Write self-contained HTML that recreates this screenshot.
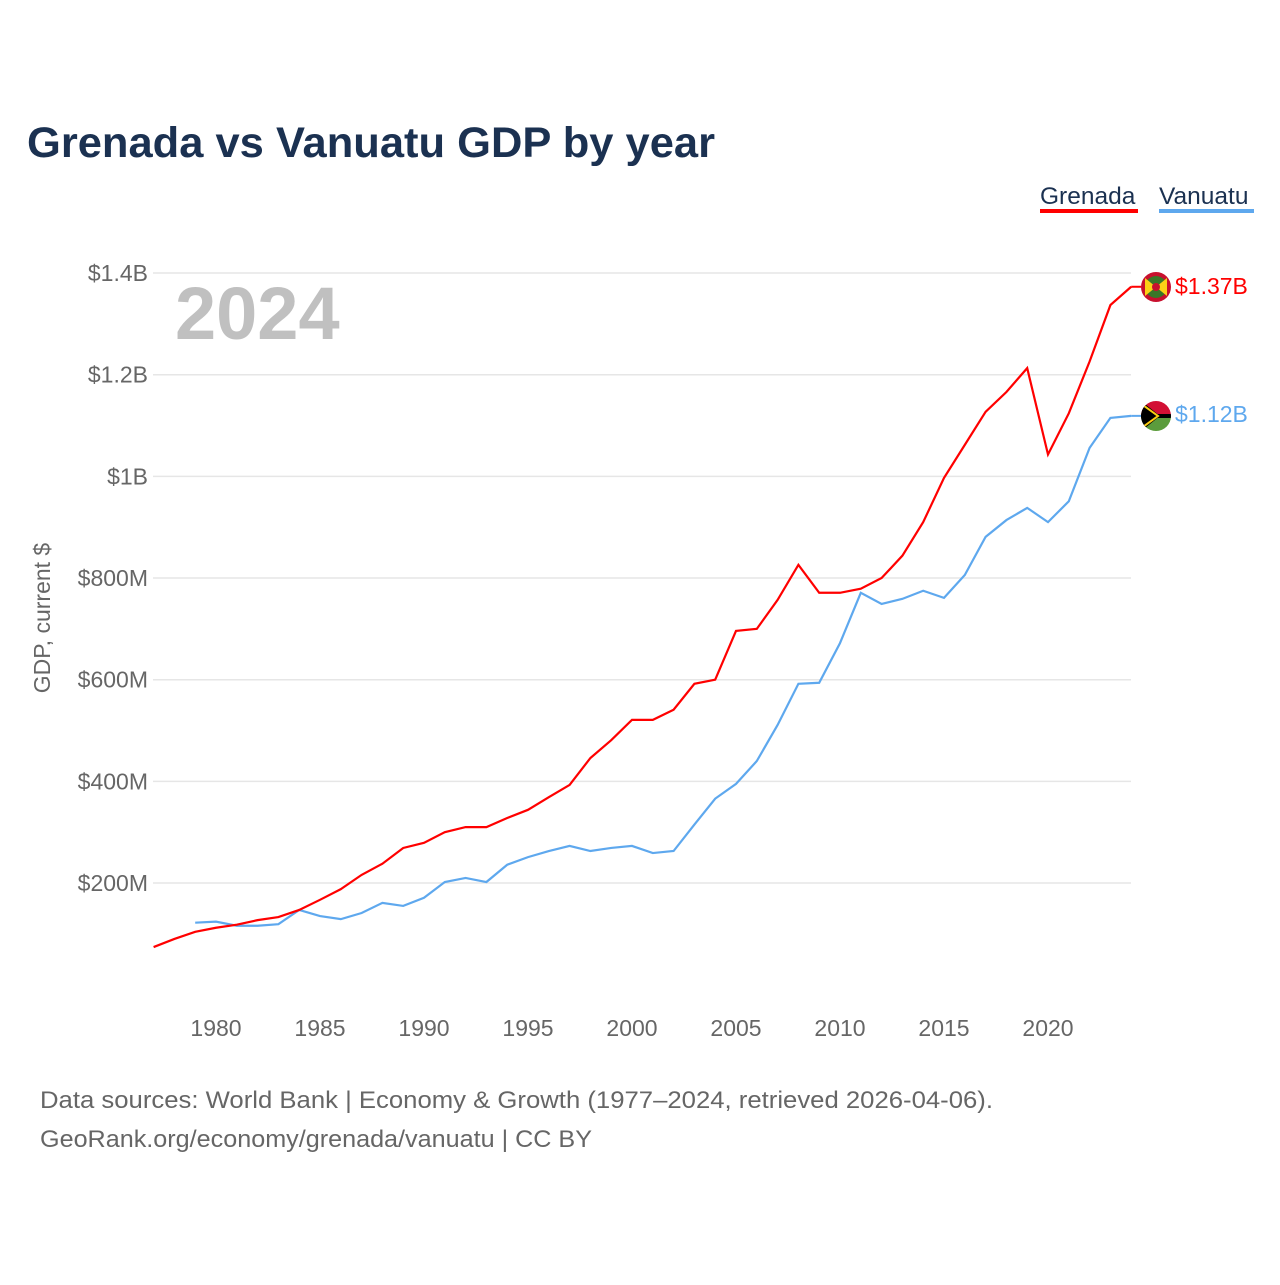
<!DOCTYPE html>
<html><head><meta charset="utf-8"><style>
body{margin:0;background:#fff;width:1280px;height:1280px;overflow:hidden;font-family:"Liberation Sans",sans-serif}
svg text{font-family:"Liberation Sans",sans-serif}
</style></head><body>
<svg id="chart" width="1280" height="1280">
<text x="27" y="157" font-size="43" font-weight="bold" fill="#1b3151" textLength="688" lengthAdjust="spacingAndGlyphs">Grenada vs Vanuatu GDP by year</text>
<g>
<text x="1040" y="204" font-size="24.5" fill="#1b3151">Grenada</text>
<rect x="1040" y="209" width="98" height="4" fill="#ff0000"/>
<text x="1159" y="204" font-size="24.5" fill="#1b3151">Vanuatu</text>
<rect x="1159" y="209" width="95" height="4" fill="#5ea8ee"/>
</g>
<g id="grid"></g>
<text x="175" y="339" font-size="74" font-weight="bold" fill="#c0c0c0">2024</text>
<text transform="translate(50,618) rotate(-90)" text-anchor="middle" font-size="23" fill="#666">GDP, current $</text>
<g id="series"></g>
<g>
<circle cx="1156" cy="287" r="15" fill="#c8102e"/><circle cx="1156" cy="287" r="11" fill="#3a7728"/><polygon points="1145,278 1167,296 1167,278 1145,296" fill="#fcd116"/><circle cx="1156" cy="287" r="4" fill="#c8102e"/>
<text x="1175" y="294" font-size="23" fill="#ff0000">$1.37B</text>
</g>
<g>
<clipPath id="cv"><circle cx="1156" cy="416" r="15"/></clipPath>
<g clip-path="url(#cv)"><rect x="1140" y="400" width="32" height="16" fill="#d21034"/><rect x="1140" y="416" width="32" height="16" fill="#5b9c3c"/><rect x="1140" y="414" width="32" height="4" fill="#000"/><polygon points="1140,400 1160,416 1140,432" fill="#000"/><polyline points="1140,403 1158,416 1140,429" fill="none" stroke="#fdce12" stroke-width="2"/></g>
<text x="1175" y="422" font-size="23" fill="#5ea8ee">$1.12B</text>
</g>
<text x="40" y="1108" font-size="24" fill="#666" textLength="953" lengthAdjust="spacingAndGlyphs">Data sources: World Bank | Economy &amp; Growth (1977–2024, retrieved 2026-04-06).</text>
<text x="40" y="1147" font-size="24" fill="#666" textLength="552" lengthAdjust="spacingAndGlyphs">GeoRank.org/economy/grenada/vanuatu | CC BY</text>
</svg>
<script>
const yTicks=[200,400,600,800,1000,1200,1400];
const yTickLabels=["$200M","$400M","$600M","$800M","$1B","$1.2B","$1.4B"];
const xTicks=[1980,1985,1990,1995,2000,2005,2010,2015,2020];
const grenadaYears=[1977,1978,1979,1980,1981,1982,1983,1984,1985,1986,1987,1988,1989,1990,1991,1992,1993,1994,1995,1996,1997,1998,1999,2000,2001,2002,2003,2004,2005,2006,2007,2008,2009,2010,2011,2012,2013,2014,2015,2016,2017,2018,2019,2020,2021,2022,2023,2024];
const grenadaGDP=[74,90,104,112,118,127,133,147,167,188,216,238,269,279,300,310,310,328,344,369,393,446,481,521,521,541,592,600,696,700,757,826,771,771,779,800,844,910,997,1062,1127,1166,1213,1043,1124,1226,1337,1373];
const vanuatuYears=[1979,1980,1981,1982,1983,1984,1985,1986,1987,1988,1989,1990,1991,1992,1993,1994,1995,1996,1997,1998,1999,2000,2001,2002,2003,2004,2005,2006,2007,2008,2009,2010,2011,2012,2013,2014,2015,2016,2017,2018,2019,2020,2021,2022,2023,2024];
const vanuatuGDP=[122,124,116,116,119,147,135,129,141,161,155,171,202,210,202,236,251,263,273,263,269,273,259,263,315,366,395,440,511,592,594,672,771,749,759,775,761,806,881,914,938,910,951,1056,1115,1119];
const NS="http://www.w3.org/2000/svg";
const xs=y=>216+(y-1980)*20.8;
const ys=v=>984.7-v*0.50833;
const grid=document.getElementById('grid');
yTicks.forEach((t,i)=>{
 const l=document.createElementNS(NS,'line');
 l.setAttribute('x1',153);l.setAttribute('x2',1131);l.setAttribute('y1',ys(t));l.setAttribute('y2',ys(t));
 l.setAttribute('stroke','#e6e6e6');l.setAttribute('stroke-width','1.5');
 
 
 grid.appendChild(l);
 const tx=document.createElementNS(NS,'text');
 tx.setAttribute('x',148);tx.setAttribute('y',ys(t)+8);tx.setAttribute('text-anchor','end');
 tx.setAttribute('font-size','23');tx.setAttribute('fill','#666');tx.textContent=yTickLabels[i];
 
 
 grid.appendChild(tx);
});
xTicks.forEach(t=>{
 const tx=document.createElementNS(NS,'text');
 tx.setAttribute('x',xs(t));tx.setAttribute('y',1036);tx.setAttribute('text-anchor','middle');
 tx.setAttribute('font-size','23');tx.setAttribute('fill','#666');tx.textContent=t;
 
 
 grid.appendChild(tx);
});
const ser=document.getElementById('series');
function line(years,vals,color,name){
 const p=document.createElementNS(NS,'polyline');
 p.setAttribute('points',years.map((y,i)=>xs(y)+','+ys(vals[i])).join(' '));
 p.setAttribute('fill','none');p.setAttribute('stroke',color);p.setAttribute('stroke-width','2.2');
 
 
 ser.appendChild(p);
 const last=vals[vals.length-1];
 const c=document.createElementNS(NS,'line');
 c.setAttribute('x1',xs(years[years.length-1]));c.setAttribute('x2',1141);
 c.setAttribute('y1',ys(last));c.setAttribute('y2',ys(last));
 c.setAttribute('stroke',color);c.setAttribute('stroke-width','2');
 
 
 ser.appendChild(c);
}
line(vanuatuYears,vanuatuGDP,'#5ea8ee','vanuatu-line');
line(grenadaYears,grenadaGDP,'#ff0000','grenada-line');
</script>
</body></html>
